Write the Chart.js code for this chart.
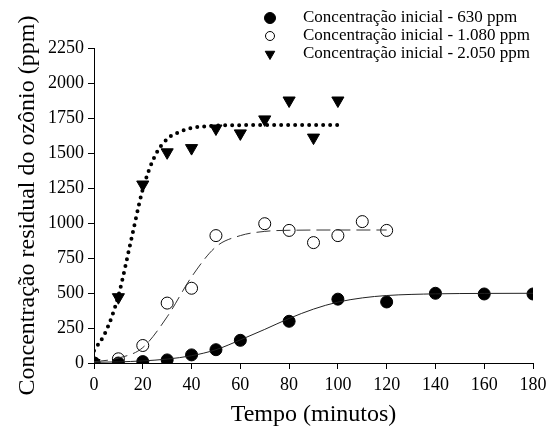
<!DOCTYPE html>
<html>
<head>
<meta charset="utf-8">
<script src="https://cdn.jsdelivr.net/npm/chart.js@4"></script>
<style>
  html, body { margin: 0; padding: 0; background: #fff; }
  #wrap { width: 547px; height: 433px; }
</style>
</head>
<body>
<div id="wrap"><canvas id="chart" width="547" height="433"></canvas></div>
<script>
// measured points
const time630 = [0, 10, 20, 30, 40, 50, 60, 80, 100, 120, 140, 160, 180];
const ozone630 = [0, 0, 10, 22, 58, 95, 162, 298, 456, 436, 498, 493, 493];
const time1080 = [0, 10, 20, 30, 40, 50, 70, 80, 90, 100, 110, 120];
const ozone1080 = [0, 30, 125, 428, 534, 910, 995, 947, 860, 910, 1010, 947];
const time2050 = [0, 10, 20, 30, 40, 50, 60, 70, 80, 90, 100];
const ozone2050 = [0, 470, 1275, 1505, 1535, 1675, 1640, 1740, 1875, 1610, 1875];

// fitted curves
const fitTime630 = [0, 10, 20, 30, 40, 50, 60, 70, 80, 90, 100, 110, 120, 140, 160, 180];
const fit630 = [5, 8, 15, 28, 52, 95, 165, 240, 318, 385, 435, 465, 482, 494, 497, 498];
const fitTime1080 = [0, 10, 20, 30, 40, 50, 60, 70, 80, 100, 120];
const fit1080 = [8, 35, 110, 330, 615, 830, 910, 940, 948, 950, 950];
const fitTime2050 = [0, 5, 10, 15, 20, 25, 30, 35, 40, 50, 60, 80, 100];
const fit2050 = [88, 230, 480, 860, 1240, 1480, 1600, 1650, 1678, 1695, 1699, 1700, 1700];

const legendLabels = [
    'Concentração inicial - 630 ppm',
    'Concentração inicial - 1.080 ppm',
    'Concentração inicial - 2.050 ppm'
];

const xy = (xs, ys) => xs.map((x, i) => ({ x: x, y: ys[i] }));
const serif = '"Liberation Serif", "Times New Roman", serif';

const markerStyles = [
    { pointStyle: 'circle', pointRadius: 6, pointBackgroundColor: '#000', pointBorderColor: '#000', pointBorderWidth: 1, pointRotation: 0 },
    { pointStyle: 'circle', pointRadius: 6, pointBackgroundColor: '#fff', pointBorderColor: '#000', pointBorderWidth: 1, pointRotation: 0 },
    { pointStyle: 'triangle', pointRadius: 7, pointBackgroundColor: '#000', pointBorderColor: '#000', pointBorderWidth: 1, pointRotation: 180 }
];

// legend drawn over the plot, top right
const floatingLegend = {
    id: 'floatingLegend',
    afterDraw(chart) {
        const ctx = chart.ctx;
        ctx.save();
        ctx.font = '17px ' + serif;
        ctx.textBaseline = 'middle';
        ctx.textAlign = 'left';
        legendLabels.forEach((label, i) => {
            const y = 18 + i * 18;
            const m = markerStyles[i];
            ctx.fillStyle = m.pointBackgroundColor;
            ctx.strokeStyle = '#000';
            ctx.lineWidth = 1;
            Chart.helpers.drawPoint(ctx, {
                pointStyle: m.pointStyle,
                radius: i === 1 ? 4.5 : 5.5,
                rotation: m.pointRotation,
                borderWidth: 1
            }, 270, y);
            ctx.fillStyle = '#000';
            ctx.fillText(label, 303, y);
        });
        ctx.restore();
    }
};

new Chart(document.getElementById('chart').getContext('2d'), {
    type: 'scatter',
    data: {
        datasets: [
            {
                data: xy(fitTime2050, fit2050), showLine: true, pointRadius: 0,
                borderColor: '#000', borderWidth: 4, borderDash: [0, 7], borderCapStyle: 'round',
                cubicInterpolationMode: 'monotone', fill: false
            },
            {
                data: xy(fitTime1080, fit1080), showLine: true, pointRadius: 0,
                borderColor: '#333', borderWidth: 1, borderDash: [14, 6],
                cubicInterpolationMode: 'monotone', fill: false
            },
            {
                data: xy(fitTime630, fit630), showLine: true, pointRadius: 0,
                borderColor: '#222', borderWidth: 1,
                cubicInterpolationMode: 'monotone', fill: false
            },
            Object.assign({ data: xy(time630, ozone630), showLine: false }, markerStyles[0]),
            Object.assign({ data: xy(time1080, ozone1080), showLine: false }, markerStyles[1]),
            Object.assign({ data: xy(time2050, ozone2050), showLine: false }, markerStyles[2])
        ]
    },
    options: {
        responsive: false,
        animation: false,
        layout: { padding: { top: 48, right: 14, left: 9, bottom: 0 } },
        plugins: {
            legend: { display: false },
            tooltip: { enabled: false }
        },
        scales: {
            x: {
                type: 'linear', min: 0, max: 180,
                ticks: { stepSize: 20, color: '#000', font: { family: serif, size: 18 }, padding: 5 },
                grid: { drawOnChartArea: false, drawTicks: true, tickLength: 6, color: '#000' },
                border: { display: true, color: '#000', width: 1 },
                title: { display: true, text: 'Tempo (minutos)', color: '#000', font: { family: serif, size: 24 }, padding: { top: 4 } },
                afterFit(scale) { scale.height = 70; scale.paddingRight = 0; scale.paddingLeft = 0; }
            },
            y: {
                type: 'linear', min: 0, max: 2250,
                ticks: {
                    stepSize: 250, color: '#000', font: { family: serif, size: 18 }, padding: 4,
                    callback: (v) => String(v)
                },
                grid: { drawOnChartArea: false, drawTicks: true, tickLength: 6, color: '#000' },
                border: { display: true, color: '#000', width: 1 },
                title: { display: true, text: 'Concentração residual do ozônio (ppm)', color: '#000', font: { family: serif, size: 24 }, padding: { bottom: 2 } },
                afterFit(scale) { scale.width = 85; scale.paddingTop = 0; scale.paddingBottom = 0; }
            }
        }
    },
    plugins: [floatingLegend]
});
</script>
</body>
</html>
